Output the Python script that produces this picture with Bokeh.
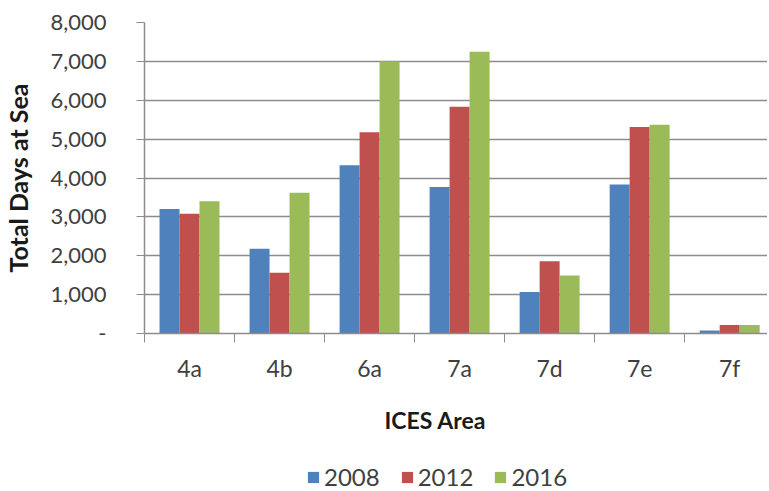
import numpy as np
from bokeh.plotting import figure
from bokeh.layouts import column
from bokeh.models import (ColumnDataSource, Range1d, FixedTicker, NumeralTickFormatter,
                          Legend, LegendItem, Title)
from bokeh.embed import file_html
from bokeh.resources import INLINE

areas = ["4a", "4b", "6a", "7a", "7d", "7e", "7f"]
years = ["2008", "2012", "2016"]
days_2008 = [3200, 2180, 4330, 3770, 1070, 3830, 80]
days_2012 = [3080, 1560, 5180, 5830, 1860, 5310, 220]
days_2016 = [3400, 3620, 7000, 7250, 1490, 5370, 220]
y_ticks = [0, 1000, 2000, 3000, 4000, 5000, 6000, 7000, 8000]
colors = ["#4F81BD", "#C0504D", "#9BBB59"]

FONT = "Lato"
GRID = "#8c8c8c"
TXT = "#404040"

idx = np.arange(len(areas))
series = [days_2008, days_2012, days_2016]

p = figure(width=767, height=452, output_backend="svg", toolbar_location=None,
           x_range=Range1d(-0.5, 6.42), y_range=Range1d(0, 8000),
           min_border_left=143, min_border_right=0, min_border_top=22, min_border_bottom=119)
p.outline_line_color = None
p.background_fill_color = "white"
p.border_fill_color = "white"

bw = 0.222
for k, (vals, c) in enumerate(zip(series, colors)):
    src = ColumnDataSource(dict(x=idx + (k - 1) * bw, top=vals))
    p.vbar(x="x", width=bw, top="top", bottom=0, source=src,
           fill_color=c, line_color=None)

# x axis
xa = p.xaxis[0]
xa.ticker = FixedTicker(ticks=list(idx), minor_ticks=list(np.arange(len(areas) + 1) - 0.5))
xa.major_label_overrides = {int(i): a for i, a in zip(idx, areas)}
xa.major_tick_line_color = None
xa.major_tick_out = 0
xa.major_tick_in = 0
xa.minor_tick_line_color = GRID
xa.minor_tick_out = 9
xa.minor_tick_in = 0
xa.axis_line_color = GRID
xa.axis_line_width = 1.5
xa.major_label_text_font = FONT
xa.major_label_text_font_size = "23px"
xa.major_label_text_color = TXT
xa.major_label_standoff = 11

# y axis
ya = p.yaxis[0]
ya.ticker = FixedTicker(ticks=y_ticks)
ya.formatter = NumeralTickFormatter(format="0,0")
ya.major_label_overrides = {0: "-"}
ya.major_tick_line_color = GRID
ya.major_tick_out = 8
ya.major_tick_in = 0
ya.minor_tick_line_color = None
ya.axis_line_color = GRID
ya.axis_line_width = 1.5
ya.major_label_text_font = FONT
ya.major_label_text_font_size = "22px"
ya.major_label_text_color = TXT
ya.major_label_standoff = 30
ya.axis_label = "Total Days at Sea"
ya.axis_label_text_font = FONT
ya.axis_label_text_font_style = "bold"
ya.axis_label_text_font_size = "25px"
ya.axis_label_text_color = "#1a1a1a"
ya.axis_label_standoff = 14

p.xgrid.grid_line_color = None
p.ygrid.ticker = FixedTicker(ticks=y_ticks)
p.ygrid.grid_line_color = GRID
p.ygrid.grid_line_width = 1.5

t = Title(text="ICES Area", align="left", offset=240, text_font=FONT, text_font_style="bold",
          text_font_size="23px", text_color="#1a1a1a", standoff=38)
p.add_layout(t, "below")

# legend strip underneath the chart (proxy renderers kept far outside the visible range)
lg = figure(width=767, height=39, output_backend="svg", toolbar_location=None,
            x_range=Range1d(-0.5, 6.42), y_range=Range1d(50000, 50001),
            x_axis_type=None, y_axis_type=None,
            min_border_left=143, min_border_right=0, min_border_top=0, min_border_bottom=0)
lg.outline_line_color = None
lg.xgrid.grid_line_color = None
lg.ygrid.grid_line_color = None
lg.border_fill_color = "white"
items = []
for y, vals, c in zip(years, series, colors):
    r = lg.vbar(x=idx, top=vals, bottom=0, width=bw, fill_color=c, line_color=None)
    items.append(LegendItem(label=y, renderers=[r]))
legend = Legend(items=items, orientation="horizontal", location=(162, 0),
                glyph_width=14, glyph_height=14, label_standoff=4, spacing=20,
                label_text_font=FONT, label_text_font_size="24px", label_text_color=TXT,
                padding=0, margin=0, border_line_color=None, background_fill_alpha=0)
lg.add_layout(legend, "center")

layout = column(p, lg, spacing=0)
open("out.html", "w").write(file_html(layout, INLINE))
